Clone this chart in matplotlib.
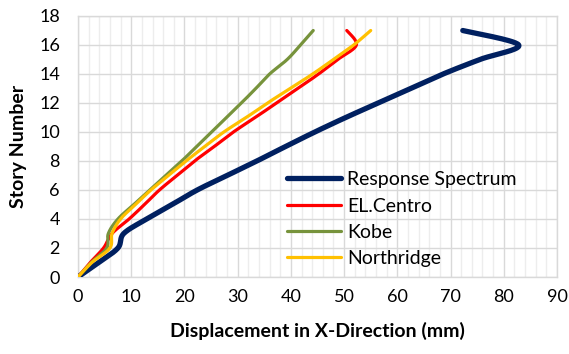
import numpy as np
import matplotlib
matplotlib.use("Agg")
import matplotlib.pyplot as plt
from matplotlib.ticker import MultipleLocator

plt.rcParams['font.family'] = ['Lato', 'DejaVu Sans']

stories = [0, 1, 2, 3, 4, 5, 6, 7, 8, 9, 10, 11, 12, 13, 14, 15, 16, 17]

response_spectrum = [0, 3.9, 7.5, 8.6, 12.9, 17.7, 22.4, 28.0, 33.6, 39.0,
                     44.5, 50.3, 56.4, 62.5, 68.6, 75.5, 82.8, 72.3]
el_centro = [0, 2.3, 4.8, 6.4, 9.6, 12.5, 15.3, 18.6, 21.9, 25.6,
             29.2, 33.3, 37.3, 41.3, 45.2, 48.8, 52.3, 50.5]
kobe = [0, 2.5, 5.4, 5.7, 7.5, 10.5, 13.5, 16.5, 19.5, 22.3,
        25.1, 27.9, 30.7, 33.4, 36.0, 39.3, 41.8, 44.2]
northridge = [0, 2.6, 6.0, 6.4, 8.0, 10.8, 13.7, 17.0, 20.3, 23.8,
              27.4, 31.6, 35.6, 39.9, 44.1, 48.0, 51.8, 55.0]

series_names = ["Response Spectrum", "EL.Centro", "Kobe", "Northridge"]
series_colors = ["#002060", "#FF0000", "#77933C", "#FFC000"]
series_widths = [3.8, 2.3, 2.3, 2.3]


def smooth_curve(xs, ys, n=30):
    """Cubic Bezier smoothing through every point (Catmull-Rom style)."""
    p = np.column_stack([xs, ys]).astype(float)
    ext = np.vstack([p[0], p, p[-1]])
    out = []
    t = np.linspace(0, 1, n)[:, None]
    for i in range(len(p) - 1):
        p0, p1, p2, p3 = ext[i], ext[i + 1], ext[i + 2], ext[i + 3]
        c1 = p1 + (p2 - p0) / 6.0
        c2 = p2 - (p3 - p1) / 6.0
        seg = ((1 - t) ** 3) * p1 + 3 * ((1 - t) ** 2) * t * c1 \
            + 3 * (1 - t) * t ** 2 * c2 + t ** 3 * p2
        out.append(seg if i == 0 else seg[1:])
    out = np.vstack(out)
    return out[:, 0], out[:, 1]


fig = plt.figure(figsize=(5.69, 3.54), dpi=100)
ax = fig.add_axes([78 / 569, 1 - 277 / 354, 479 / 569, 261 / 354])

for vals, name, col, lw in zip([response_spectrum, el_centro, kobe, northridge],
                               series_names, series_colors, series_widths):
    sx, sy = smooth_curve(vals, stories)
    ax.plot(sx, sy, color=col, lw=lw, label=name, solid_capstyle='round',
            solid_joinstyle='round', zorder=3)

ax.set_xlim(0, 90)
ax.set_ylim(0, 18)
ax.xaxis.set_major_locator(MultipleLocator(10))
ax.xaxis.set_minor_locator(MultipleLocator(2))
ax.yaxis.set_major_locator(MultipleLocator(2))
ax.grid(which='major', color='#D9D9D9', lw=1.0, zorder=0)
ax.grid(which='minor', axis='x', color='#EDEDED', lw=1.0, zorder=0)
ax.tick_params(which='both', length=0, labelsize=13, colors='black')
ax.tick_params(axis='y', pad=13)
ax.tick_params(axis='x', pad=9)
for s in ax.spines.values():
    s.set_color('#D9D9D9')
    s.set_linewidth(1.0)

ax.set_xlabel("Displacement in X-Direction (mm)", fontsize=14, fontweight='bold',
              labelpad=12)
ax.set_ylabel("Story Number", fontsize=14, fontweight='bold', labelpad=9)

leg = ax.legend(loc='upper left', bbox_to_anchor=(0.436, 0.405), frameon=False,
                fontsize=14, handlelength=2.8, handletextpad=0.3,
                labelspacing=0.48, borderaxespad=0, borderpad=0)

fig.savefig("out.png", dpi=100, facecolor='white')
